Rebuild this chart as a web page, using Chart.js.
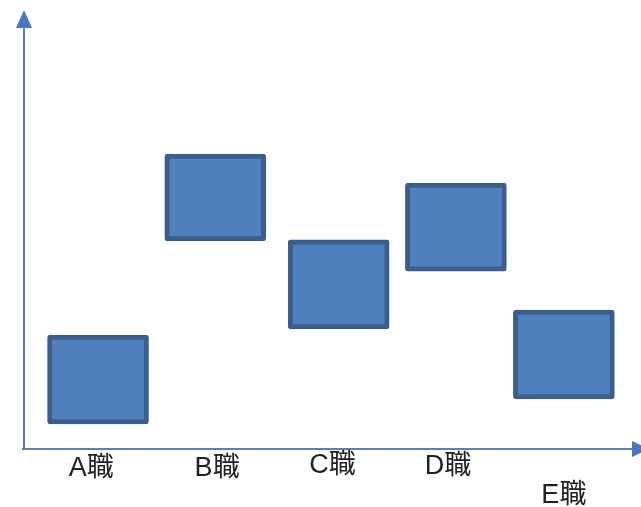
<!DOCTYPE html>
<html>
<head>
<meta charset="utf-8">
<script src="https://cdn.jsdelivr.net/npm/chart.js@4/dist/chart.umd.min.js"></script>
<style>
  html, body { margin: 0; padding: 0; background: #fff; }
  #wrap { width: 641px; height: 507px; }
</style>
</head>
<body>
<div id="wrap"><canvas id="chart" width="641" height="507"></canvas></div>
<script>
  // jobs and where their boxes sit (arbitrary 0-10 units on both axes)
  const jobs = ['A職', 'B職', 'C職', 'D職', 'E職'];
  const boxX = [1.2, 3.1, 5.1, 7.0, 8.75];
  const boxLow = [0.55, 4.73, 2.72, 4.04, 1.12];
  const boxHigh = [2.58, 6.71, 4.75, 6.05, 3.15];
  // label anchors (E職 sits lower than the rest)
  const labelX = [1.09, 3.13, 5.0, 6.87, 8.75];
  const labelY = [-0.47, -0.47, -0.4, -0.42, -1.08];

  const axisColor = '#5f7fb3';

  const arrowAxes = {
    id: 'arrowAxes',
    afterDatasetsDraw(chart) {
      const { ctx, chartArea: a } = chart;
      ctx.save();
      ctx.strokeStyle = axisColor;
      ctx.fillStyle = '#4a76c0';
      ctx.lineWidth = 2;
      // y axis
      ctx.beginPath();
      ctx.moveTo(a.left, a.bottom + 1);
      ctx.lineTo(a.left, a.top + 14);
      ctx.stroke();
      ctx.beginPath();
      ctx.moveTo(a.left, a.top);
      ctx.lineTo(a.left - 8, a.top + 18);
      ctx.lineTo(a.left + 8, a.top + 18);
      ctx.closePath();
      ctx.fill();
      // x axis
      ctx.beginPath();
      ctx.moveTo(a.left - 2, a.bottom + 1);
      ctx.lineTo(a.right - 8, a.bottom + 1);
      ctx.stroke();
      ctx.beginPath();
      ctx.moveTo(a.right + 8, a.bottom + 1);
      ctx.lineTo(a.right - 9, a.bottom - 7);
      ctx.lineTo(a.right - 9, a.bottom + 9);
      ctx.closePath();
      ctx.fill();
      ctx.restore();
    }
  };

  const jobLabels = {
    id: 'jobLabels',
    afterDraw(chart) {
      const { ctx, scales } = chart;
      ctx.save();
      ctx.fillStyle = '#222';
      ctx.font = '27px "Liberation Sans", "Noto Sans CJK JP", sans-serif';
      ctx.textAlign = 'center';
      ctx.textBaseline = 'middle';
      jobs.forEach((j, i) => {
        ctx.fillText(j, scales.x.getPixelForValue(labelX[i]), scales.y.getPixelForValue(labelY[i]));
      });
      ctx.restore();
    }
  };

  new Chart(document.getElementById('chart'), {
    type: 'bar',
    data: {
      datasets: [{
        data: boxX.map((x, i) => ({ x: x, y: [boxLow[i], boxHigh[i]] })),
        backgroundColor: '#4f81bd',
        borderColor: '#3a5f8e',
        borderWidth: 5,
        borderRadius: 3,
        borderSkipped: false,
        barThickness: 101
      }]
    },
    options: {
      responsive: false,
      animation: false,
      layout: { padding: { left: 24, right: 0, top: 10, bottom: 59 } },
      plugins: { legend: { display: false }, tooltip: { enabled: false } },
      scales: {
        x: { type: 'linear', min: 0, max: 10, offset: false, display: false },
        y: { min: 0, max: 10, display: false }
      }
    },
    plugins: [arrowAxes, jobLabels]
  });
</script>
</body>
</html>
